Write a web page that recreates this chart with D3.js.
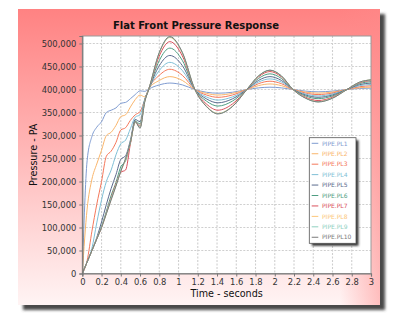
<!DOCTYPE html>
<html>
<head>
<meta charset="utf-8">
<script src="https://cdn.jsdelivr.net/npm/d3@7/dist/d3.min.js"></script>
<style>
  html, body { margin: 0; padding: 0; background: #ffffff; }
  svg { display: block; font-family: "DejaVu Sans", Verdana, sans-serif; }
</style>
</head>
<body>
<svg id="chart" width="400" height="325"></svg>
<script>
// Sample times (seconds)
const times = [0, 0.05, 0.1, 0.15, 0.2, 0.25, 0.3, 0.35, 0.4, 0.45, 0.5, 0.55, 0.6, 0.65, 0.69,
  0.8, 0.91, 1.04, 1.17, 1.29, 1.41, 1.56, 1.71, 1.83, 1.95, 2.07, 2.19, 2.32, 2.45, 2.6, 2.75, 2.88, 3.0];

// Pressure at each pipe location, in kPa
const pl1  = [0, 245, 298, 318, 330, 350, 355, 360, 370, 372, 380, 389, 397, 396, 401,
  410, 414, 410, 400, 394, 392, 394, 400, 403.5, 405, 403.5, 400, 396.5, 395, 396.5, 400, 402.3, 403];
const pl2  = [0, 140, 205, 238, 268, 300, 307, 322, 341, 345, 362, 378, 388, 384, 401,
  419.6, 428, 419.6, 400, 391.6, 388, 391.6, 400, 408.4, 412, 408.4, 400, 394.4, 392, 394.4, 400, 403.8, 405];
const pl3  = [0, 28, 92, 150, 200, 255, 266, 285, 312, 317, 333, 345, 352, 378, 401,
  430.8, 444, 430.8, 400, 388.1, 383, 388.1, 400, 412.6, 418, 412.6, 400, 392.3, 389, 392.3, 400, 406, 408];
const pl4  = [0, 25, 55, 110, 160, 200, 225, 258, 282, 290, 315, 340, 345, 380, 400,
  441.3, 459, 441.3, 400, 383.9, 377, 383.9, 400, 416.1, 423, 416.1, 400, 390.2, 386, 390.2, 400, 408.3, 411];
const pl5  = [0, 25, 50, 78, 112, 150, 185, 215, 248, 256, 290, 335, 330, 378, 400,
  451.8, 474, 451.8, 400, 379.7, 371, 379.7, 400, 419.6, 428, 419.6, 400, 388.1, 383, 388.1, 400, 410.5, 414];
const pl6  = [0, 25, 50, 75, 102, 135, 170, 198, 232, 245, 285, 332, 325, 377, 400,
  463, 490, 463, 400, 374.8, 364, 374.8, 400, 423.8, 434, 423.8, 400, 386, 380, 386, 400, 412.8, 417];
const pl7  = [0, 25, 50, 75, 100, 132, 165, 195, 220, 225, 282, 330, 320, 376, 400,
  472.8, 504, 472.8, 400, 368.5, 355, 368.5, 400, 427.3, 439, 427.3, 400, 383.2, 376, 383.2, 400, 414.6, 419.5];
const pl8  = [0, 25, 50, 76, 100, 130, 162, 192, 222, 248, 284, 328, 318, 375, 400,
  479.1, 513, 479.1, 400, 363.6, 348, 363.6, 400, 429, 441.5, 429, 400, 381.5, 373.5, 381.5, 400, 415.8, 421];
const pl9  = [0, 25, 50, 75, 101, 131, 163, 192, 224, 250, 285, 329, 318, 375, 400,
  479.8, 514, 479.8, 400, 363.3, 347.5, 363.3, 400, 429.4, 442, 429.4, 400, 381.1, 373, 381.1, 400, 415.8, 421];
const pl10 = [0, 25, 50, 75, 100, 130, 160, 190, 222, 250, 285, 330, 316, 374, 400,
  480.5, 515, 480.5, 400, 362.9, 347, 362.9, 400, 429.4, 442, 429.4, 400, 381.1, 373, 381.1, 400, 415.8, 421];

const seriesNames = ["PIPE.PL1", "PIPE.PL2", "PIPE.PL3", "PIPE.PL4", "PIPE.PL5",
  "PIPE.PL6", "PIPE.PL7", "PIPE.PL8", "PIPE.PL9", "PIPE.PL10"];
const seriesValues = [pl1, pl2, pl3, pl4, pl5, pl6, pl7, pl8, pl9, pl10];
const seriesColors = ["#7f9bd0", "#f9b56b", "#f4775a", "#7fbfd6", "#5a6a8c",
  "#4f9d82", "#d9505c", "#fcc77a", "#8fd0bf", "#7a7a7a"];

const yTickValues = [0, 50000, 100000, 150000, 200000, 250000, 300000, 350000, 400000, 450000, 500000];
const xTickValues = [0, 0.2, 0.4, 0.6, 0.8, 1, 1.2, 1.4, 1.6, 1.8, 2, 2.2, 2.4, 2.6, 2.8, 3];
const xTickLabels = ["0", "0.2", "0.4", "0.6", "0.8", "1", "1.2", "1.4", "1.6", "1.8",
  "2", "2.2", "2.4", "2.6", "2.8", "3"];

const titleText = "Flat Front Pressure Response";
const xTitle = "Time - seconds";
const yTitle = "Pressure - PA";

// ---- layout ----
const W = 400, H = 325;
const card = { x: 18, y: 9, w: 362, h: 296 };
const plot = { left: 82.3, right: 371, top: 36, bottom: 273.5 };

const svg = d3.select("#chart");
const defs = svg.append("defs");

const bgGrad = defs.append("linearGradient").attr("id", "bgGrad")
  .attr("x1", 0).attr("y1", 0).attr("x2", 0).attr("y2", 1);
bgGrad.append("stop").attr("offset", "0%").attr("stop-color", "#ff8282");
bgGrad.append("stop").attr("offset", "45%").attr("stop-color", "#ffb4b4");
bgGrad.append("stop").attr("offset", "100%").attr("stop-color", "#fff4f4");

const edgeGrad = defs.append("linearGradient").attr("id", "edgeGrad")
  .attr("x1", 0).attr("y1", 0).attr("x2", 1).attr("y2", 0);
edgeGrad.append("stop").attr("offset", "0%").attr("stop-color", "#ff8a8a").attr("stop-opacity", 0);
edgeGrad.append("stop").attr("offset", "100%").attr("stop-color", "#ff8a8a").attr("stop-opacity", 0.5);

const blur = defs.append("filter").attr("id", "shadowBlur")
  .attr("x", "-10%").attr("y", "-10%").attr("width", "120%").attr("height", "120%");
blur.append("feGaussianBlur").attr("stdDeviation", 1.8);

const blurSmall = defs.append("filter").attr("id", "shadowBlurSmall")
  .attr("x", "-20%").attr("y", "-20%").attr("width", "140%").attr("height", "140%");
blurSmall.append("feGaussianBlur").attr("stdDeviation", 0.9);

// card with drop shadow
svg.append("rect")
  .attr("x", card.x + 5).attr("y", card.y + 5)
  .attr("width", card.w).attr("height", card.h)
  .attr("fill", "#4a4a4a").attr("filter", "url(#shadowBlur)");
svg.append("rect")
  .attr("x", card.x).attr("y", card.y)
  .attr("width", card.w).attr("height", card.h)
  .attr("fill", "url(#bgGrad)");
svg.append("rect")
  .attr("x", card.x + card.w - 40).attr("y", card.y)
  .attr("width", 40).attr("height", card.h)
  .attr("fill", "url(#edgeGrad)");

// ---- scales ----
const x = d3.scaleLinear().domain([0, 3]).range([plot.left, plot.right]);
const y = d3.scaleLinear().domain([0, 516300]).range([plot.bottom, plot.top]);

// plot background
svg.append("rect")
  .attr("x", plot.left).attr("y", plot.top)
  .attr("width", plot.right - plot.left).attr("height", plot.bottom - plot.top)
  .attr("fill", "#ffffff");

// grid
const grid = svg.append("g").attr("class", "grid")
  .attr("stroke", "#cfcfcf").attr("stroke-width", 1.1).attr("stroke-dasharray", "2,1.5");
grid.selectAll("line.v").data(xTickValues.slice(1, -1)).join("line")
  .attr("x1", d => x(d)).attr("x2", d => x(d))
  .attr("y1", plot.top).attr("y2", plot.bottom);
grid.selectAll("line.h").data(yTickValues.slice(1)).join("line")
  .attr("x1", plot.left).attr("x2", plot.right)
  .attr("y1", d => y(d)).attr("y2", d => y(d));

// plot frame
svg.append("rect")
  .attr("x", plot.left).attr("y", plot.top)
  .attr("width", plot.right - plot.left).attr("height", plot.bottom - plot.top)
  .attr("fill", "none").attr("stroke", "#9a9a9a").attr("stroke-width", 1);

// ---- series ----
const line = d3.line()
  .x((d, i) => x(times[i]))
  .y(d => y(d * 1000))
  .curve(d3.curveMonotoneX);

svg.append("defs").append("clipPath").attr("id", "plotClip")
  .append("rect")
  .attr("x", plot.left).attr("y", plot.top - 2)
  .attr("width", plot.right - plot.left).attr("height", plot.bottom - plot.top + 2);

svg.append("g").attr("clip-path", "url(#plotClip)")
  .selectAll("path").data(seriesValues).join("path")
  .attr("d", d => line(d))
  .attr("fill", "none")
  .attr("stroke", (d, i) => seriesColors[i])
  .attr("stroke-width", 1)
  .attr("stroke-linejoin", "round");

// ---- axes ----
const xAxis = d3.axisBottom(x)
  .tickValues(xTickValues)
  .tickFormat((d, i) => xTickLabels[i])
  .tickSize(3).tickPadding(3);
const gx = svg.append("g")
  .attr("transform", `translate(0,${plot.bottom})`)
  .call(xAxis);
gx.select(".domain").attr("stroke", "#777").attr("stroke-width", 1.2);
gx.selectAll(".tick line").attr("stroke", "#777");
gx.selectAll("text").attr("fill", "#333").attr("font-size", 8.4)
  .attr("font-family", "DejaVu Sans, Verdana, sans-serif");

const yAxis = d3.axisLeft(y)
  .tickValues(yTickValues)
  .tickFormat(d3.format(","))
  .tickSize(3).tickPadding(3);
const gy = svg.append("g")
  .attr("transform", `translate(${plot.left},0)`)
  .call(yAxis);
gy.select(".domain").attr("stroke", "#777").attr("stroke-width", 1.2);
gy.selectAll(".tick line").attr("stroke", "#777");
gy.selectAll("text").attr("fill", "#333").attr("font-size", 8.4)
  .attr("font-family", "DejaVu Sans, Verdana, sans-serif");

// ---- titles ----
svg.append("text")
  .attr("x", 196).attr("y", 29.3)
  .attr("text-anchor", "middle")
  .attr("font-size", 10).attr("font-weight", "bold").attr("fill", "#111")
  .text(titleText);

svg.append("text")
  .attr("x", (plot.left + plot.right) / 2).attr("y", 296.5)
  .attr("text-anchor", "middle")
  .attr("font-size", 9.6).attr("fill", "#111")
  .text(xTitle);

svg.append("text")
  .attr("transform", `translate(36.5,${(plot.top + plot.bottom) / 2}) rotate(-90)`)
  .attr("text-anchor", "middle")
  .attr("font-size", 9.6).attr("fill", "#111")
  .text(yTitle);

// ---- legend ----
const lg = { x: 309.3, y: 137.7, w: 46.7, h: 105.6, row: 10.44 };
svg.append("rect")
  .attr("x", lg.x + 2.5).attr("y", lg.y + 2.5).attr("width", lg.w).attr("height", lg.h)
  .attr("fill", "#333").attr("filter", "url(#shadowBlurSmall)");
svg.append("rect")
  .attr("x", lg.x).attr("y", lg.y).attr("width", lg.w).attr("height", lg.h)
  .attr("fill", "#ffffff").attr("stroke", "#555").attr("stroke-width", 0.8);

const items = svg.append("g").selectAll("g").data(seriesNames).join("g")
  .attr("transform", (d, i) => `translate(${lg.x},${lg.y + 5.6 + i * lg.row})`);
items.append("line")
  .attr("x1", 2.4).attr("x2", 9)
  .attr("y1", 0).attr("y2", 0)
  .attr("stroke", (d, i) => seriesColors[i]).attr("stroke-width", 1);
items.append("text")
  .attr("x", 12.7).attr("y", 2.2)
  .attr("font-size", 6).attr("fill", (d, i) => seriesColors[i])
  .text(d => d);
</script>
</body>
</html>
